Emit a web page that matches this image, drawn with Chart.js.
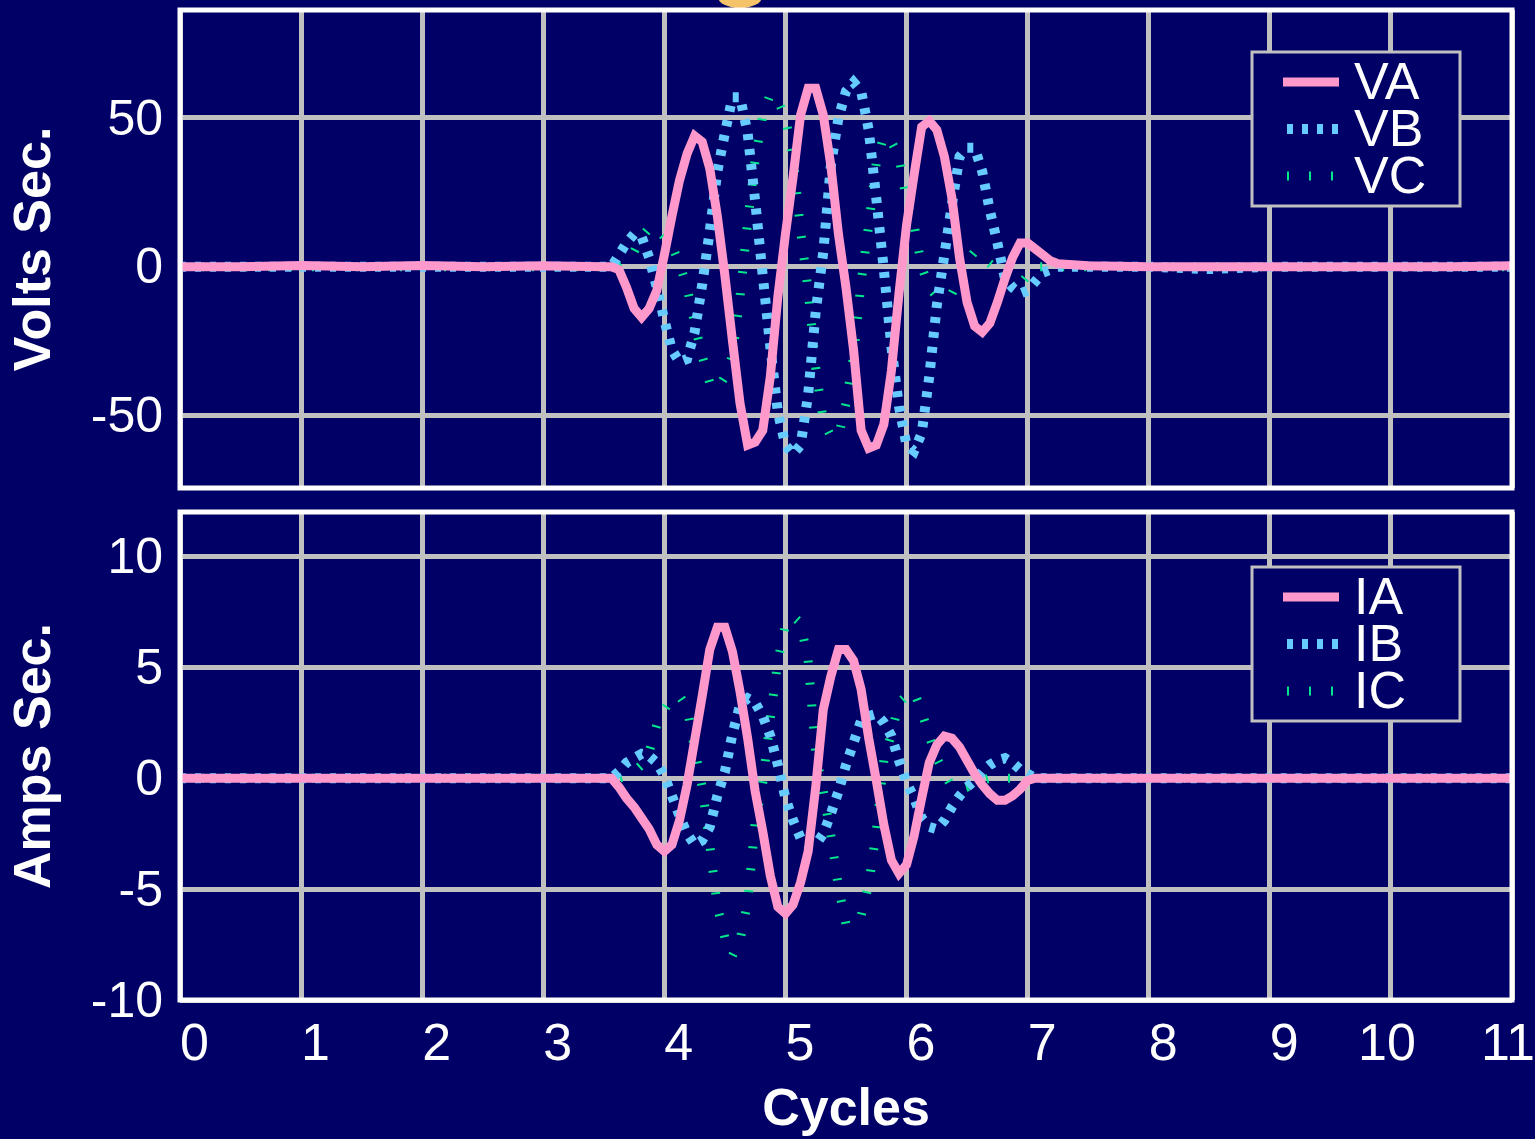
<!DOCTYPE html>
<html>
<head>
<meta charset="utf-8">
<title>Volts / Amps Sec.</title>
<script src="https://cdn.jsdelivr.net/npm/chart.js@4.4.1/dist/chart.umd.min.js"></script>
<style>
  html, body { margin: 0; padding: 0; background: #000066; overflow: hidden; }
  body { width: 1535px; height: 1139px; position: relative; }
  canvas { position: absolute; left: 0; }
  #volts { top: 0; }
  #amps { top: 500px; }
  .blob { position: absolute; left: 718px; top: -14px; width: 44px; height: 22px; border-radius: 50%; background: #f4c36a; }
</style>
</head>
<body>
<div class="blob"></div>
<canvas id="volts" width="1535" height="500"></canvas>
<canvas id="amps" width="1535" height="639"></canvas>
<script>
// time base in cycles: coarse before/after the event, 1/16 cycle through it
const cycles = [
  0, 0.5, 1, 1.5, 2, 2.5, 3,
  3.5, 3.5625, 3.625, 3.6875, 3.75, 3.8125, 3.875, 3.9375,
  4, 4.0625, 4.125, 4.1875, 4.25, 4.3125, 4.375, 4.4375,
  4.5, 4.5625, 4.625, 4.6875, 4.75, 4.8125, 4.875, 4.9375,
  5, 5.0625, 5.125, 5.1875, 5.25, 5.3125, 5.375, 5.4375,
  5.5, 5.5625, 5.625, 5.6875, 5.75, 5.8125, 5.875, 5.9375,
  6, 6.0625, 6.125, 6.1875, 6.25, 6.3125, 6.375, 6.4375,
  6.5, 6.5625, 6.625, 6.6875, 6.75, 6.8125, 6.875, 6.9375,
  7, 7.0625, 7.125, 7.1875, 7.25,
  7.5, 8, 8.5, 9, 9.5, 10, 10.5, 11
];

// voltages
const va = [
  0, 0, 0.4, 0, 0.4, 0, 0.3,
  0, 0, -1, -7, -14, -17, -14, -8,
  4, 17, 29, 38, 44, 42, 33, 17,
  -3, -25, -46, -60, -59, -55, -37, -10,
  11, 30, 51, 60, 60, 51, 34, 11,
  -7, -28, -55, -61, -60, -53, -35, -9,
  14, 31, 47, 49, 46, 37, 23, 3,
  -12, -20, -22, -19, -12, -4, 3, 8,
  8, 6, 4, 2, 1,
  0.3, 0, 0, 0, 0, 0, 0, 0.3
];
const vb = [
  0, 0, 0, 0, 0, 0, 0,
  0, 0, 4, 8, 11, 10, 3, -7,
  -18, -28, -32, -31, -22, -6, 12, 32,
  45, 57, 57, 45, 22, -3, -27, -49,
  -60, -63, -60, -43, -15, 5, 34, 50,
  59, 62, 59, 46, 23, -1, -27, -47,
  -60, -62, -56, -37, -13, 4, 21, 37,
  40, 40, 32, 19, 8, -4, -7, -9,
  -8, -5, -2, -1, 0,
  0, 0, -0.8, 0, 0, 0, 0, 0
];
const vc = [
  0, 0, 0, 0, 0, 0, 0,
  0, 0, 0, 1, 5, 10, 13, 13,
  10, 7, 1, -7, -19, -30, -39, -41,
  -37, -30, -10, 15, 36, 51, 58, 56,
  50, 37, 12, -8, -34, -52, -57, -57,
  -46, -30, -5, 14, 35, 44, 42, 37,
  22, 14, 0, -7, -10, -10, -9, -4,
  2, 5, 3, 1, -1, -3, -5, -6,
  -3, 0, 0, 0, 0,
  0, 0, 0, 0, 0, 0, 0, 0
];

// currents
const ia = [
  0, 0, 0, 0, 0, 0, 0,
  0, 0, -0.4, -0.9, -1.3, -1.8, -2.3, -3.0,
  -3.3, -3.0, -1.9, -0.3, 1.7, 3.7, 5.8, 6.8,
  6.8, 5.7, 3.9, 1.8, -0.6, -2.4, -4.4, -5.8,
  -6.1, -5.7, -4.7, -3.3, -0.4, 3.1, 4.6, 5.8,
  5.8, 5.3, 4.0, 1.8, -0.1, -2.1, -3.7, -4.3,
  -3.9, -2.6, -0.9, 0.7, 1.5, 1.9, 1.8, 1.4,
  0.8, 0.2, -0.3, -0.7, -1.0, -1.0, -0.8, -0.5,
  -0.1, 0, 0, 0, 0,
  0, 0, 0, 0, 0, 0, 0, 0
];
const ib = [
  0, 0, 0, 0, 0, 0, 0,
  0, 0, 0.3, 0.7, 0.9, 1.1, 1.0, 0.7,
  0.1, -0.8, -1.7, -2.5, -3.0, -2.8, -2.2, -0.8,
  0.3, 2.0, 3.3, 3.6, 3.4, 2.8, 1.9, 0.6,
  -0.9, -1.9, -2.7, -3.0, -3.0, -2.5, -1.6, -0.6,
  0.6, 1.6, 2.6, 2.8, 2.9, 2.5, 1.9, 0.8,
  -0.2, -0.9, -1.8, -2.2, -2.3, -1.9, -1.3, -0.8,
  -0.4, -0.1, 0.3, 0.6, 0.8, 0.9, 0.7, 0.4,
  0.2, 0, 0, 0, 0,
  0, 0, 0, 0, 0, 0, 0, 0
];
const ic = [
  0, 0, 0, 0, 0, 0, 0,
  0, 0, 0, 0.1, 0.3, 0.6, 1.2, 2.4,
  3.1, 3.6, 3.7, 3.2, 1.3, -0.4, -3.0, -5.8,
  -7.2, -8.0, -7.3, -5.6, -2.0, -0.2, 2.7, 5.3,
  6.9, 7.3, 7.0, 5.3, 1.1, -0.6, -2.6, -4.9,
  -6.6, -6.5, -6.2, -4.8, -2.4, 0.8, 2.0, 3.4,
  3.7, 3.9, 3.0, 1.9, 0.9, 0.2, -0.4, -0.5,
  -0.4, -0.2, -0.1, 0, 0, 0, 0, 0,
  0, 0, 0, 0, 0,
  0, 0, 0, 0, 0, 0, 0, 0
];

const voltTicks = [-50, 0, 50];
const ampTicks = [-10, -5, 0, 5, 10];
const cycleTicks = [0, 1, 2, 3, 4, 5, 6, 7, 8, 9, 10, 11];

const NAVY = '#000066';
const GRID = '#c0c0c0';
const FONT = '"Liberation Sans", Arial, sans-serif';

// phase A solid, B square dots, C thin ticks
const phaseStyle = [
  { color: '#ff99cc', width: 9, dash: [] },
  { color: '#66ccff', width: 10, dash: [6, 9] },
  { color: '#00e68c', width: 9, dash: [2, 20] }
];

function series(label, values, k) {
  return {
    label,
    data: cycles.map((x, i) => ({ x, y: values[i] })),
    borderColor: phaseStyle[k].color,
    borderWidth: phaseStyle[k].width,
    borderDash: phaseStyle[k].dash,
    pointRadius: 0,
    fill: false,
    tension: 0
  };
}

// white frame, boxed legend and the cycle labels under the lower plot
const framePlugin = {
  id: 'frame',
  afterDraw(chart, args, opts) {
    const { ctx, chartArea: a } = chart;
    ctx.save();
    ctx.strokeStyle = '#ffffff';
    ctx.lineWidth = 5;
    ctx.strokeRect(a.left, a.top, a.right - a.left, a.bottom - a.top);

    const bx = a.right - 260, by = a.top + opts.legendTop, bw = 208, bh = 154;
    ctx.fillStyle = NAVY;
    ctx.fillRect(bx, by, bw, bh);
    ctx.strokeStyle = GRID;
    ctx.lineWidth = 3;
    ctx.strokeRect(bx, by, bw, bh);
    ctx.font = '52px ' + FONT;
    ctx.textAlign = 'left';
    ctx.textBaseline = 'alphabetic';
    chart.data.datasets.forEach((ds, i) => {
      const y = by + 30 + i * 47;
      ctx.strokeStyle = ds.borderColor;
      ctx.lineWidth = ds.borderWidth;
      ctx.setLineDash(ds.borderDash);
      ctx.lineDashOffset = -4;
      ctx.beginPath();
      ctx.moveTo(bx + 31, y);
      ctx.lineTo(bx + 87, y);
      ctx.stroke();
      ctx.setLineDash([]);
      ctx.fillStyle = '#ffffff';
      ctx.fillText(ds.label, bx + 102, y + 17);
    });

    if (opts.xLabels) {
      const xs = chart.scales.x;
      ctx.fillStyle = '#ffffff';
      cycleTicks.forEach(v => {
        const s = String(v);
        const px = xs.getPixelForValue(v);
        if (s.length === 1) {
          ctx.textAlign = 'left';
          ctx.fillText(s, px, a.bottom + 60);
        } else {
          ctx.textAlign = 'center';
          ctx.fillText(s, px - 4, a.bottom + 60);
        }
      });
    }
    ctx.restore();
  }
};

function noPad(s) {
  s.paddingTop = 0; s.paddingBottom = 0; s.paddingLeft = 0; s.paddingRight = 0;
}

function yScale(title, min, max, ticks) {
  return {
    type: 'linear',
    min, max,
    afterBuildTicks: s => { s.ticks = ticks.map(value => ({ value })); },
    afterFit: s => { s.width = 180; noPad(s); },
    grid: { color: GRID, lineWidth: 5, drawTicks: false },
    border: { display: false },
    ticks: { color: '#ffffff', padding: 17, labelOffset: 3, font: { family: FONT, size: 50 } },
    title: {
      display: true, text: title, color: '#ffffff',
      font: { family: FONT, size: 52, weight: 'bold' },
      padding: { top: 4, bottom: 0 }
    }
  };
}

function xScale(withTitle, height) {
  return {
    type: 'linear',
    min: 0, max: 11,
    afterBuildTicks: s => { s.ticks = cycleTicks.map(value => ({ value })); },
    afterFit: s => { s.height = height; noPad(s); },
    grid: { color: GRID, lineWidth: 5, drawTicks: false },
    border: { display: false },
    ticks: { display: false },
    title: {
      display: withTitle, text: 'Cycles', color: '#ffffff',
      font: { family: FONT, size: 52, weight: 'bold', lineHeight: 1.1 },
      padding: 0
    }
  };
}

function makeChart(id, datasets, y, x, padding, legendTop, xLabels) {
  return new Chart(document.getElementById(id), {
    type: 'line',
    data: { datasets },
    options: {
      responsive: false,
      maintainAspectRatio: false,
      devicePixelRatio: 1,
      animation: false,
      layout: { padding },
      scales: { x, y },
      plugins: {
        legend: { display: false },
        tooltip: { enabled: false },
        frame: { legendTop, xLabels }
      }
    },
    plugins: [framePlugin]
  });
}

makeChart('volts',
  [series('VA', va, 0), series('VB', vb, 1), series('VC', vc, 2)],
  yScale('Volts Sec.', -74.4, 86.3, voltTicks),
  xScale(false, 0),
  { top: 10, right: 23, bottom: 12, left: 0 },
  42, false);

makeChart('amps',
  [series('IA', ia, 0), series('IB', ib, 1), series('IC', ic, 2)],
  yScale('Amps Sec.', -10, 12, ampTicks),
  xScale(true, 139),
  { top: 12, right: 23, bottom: 0, left: 0 },
  55, true);
</script>
</body>
</html>
